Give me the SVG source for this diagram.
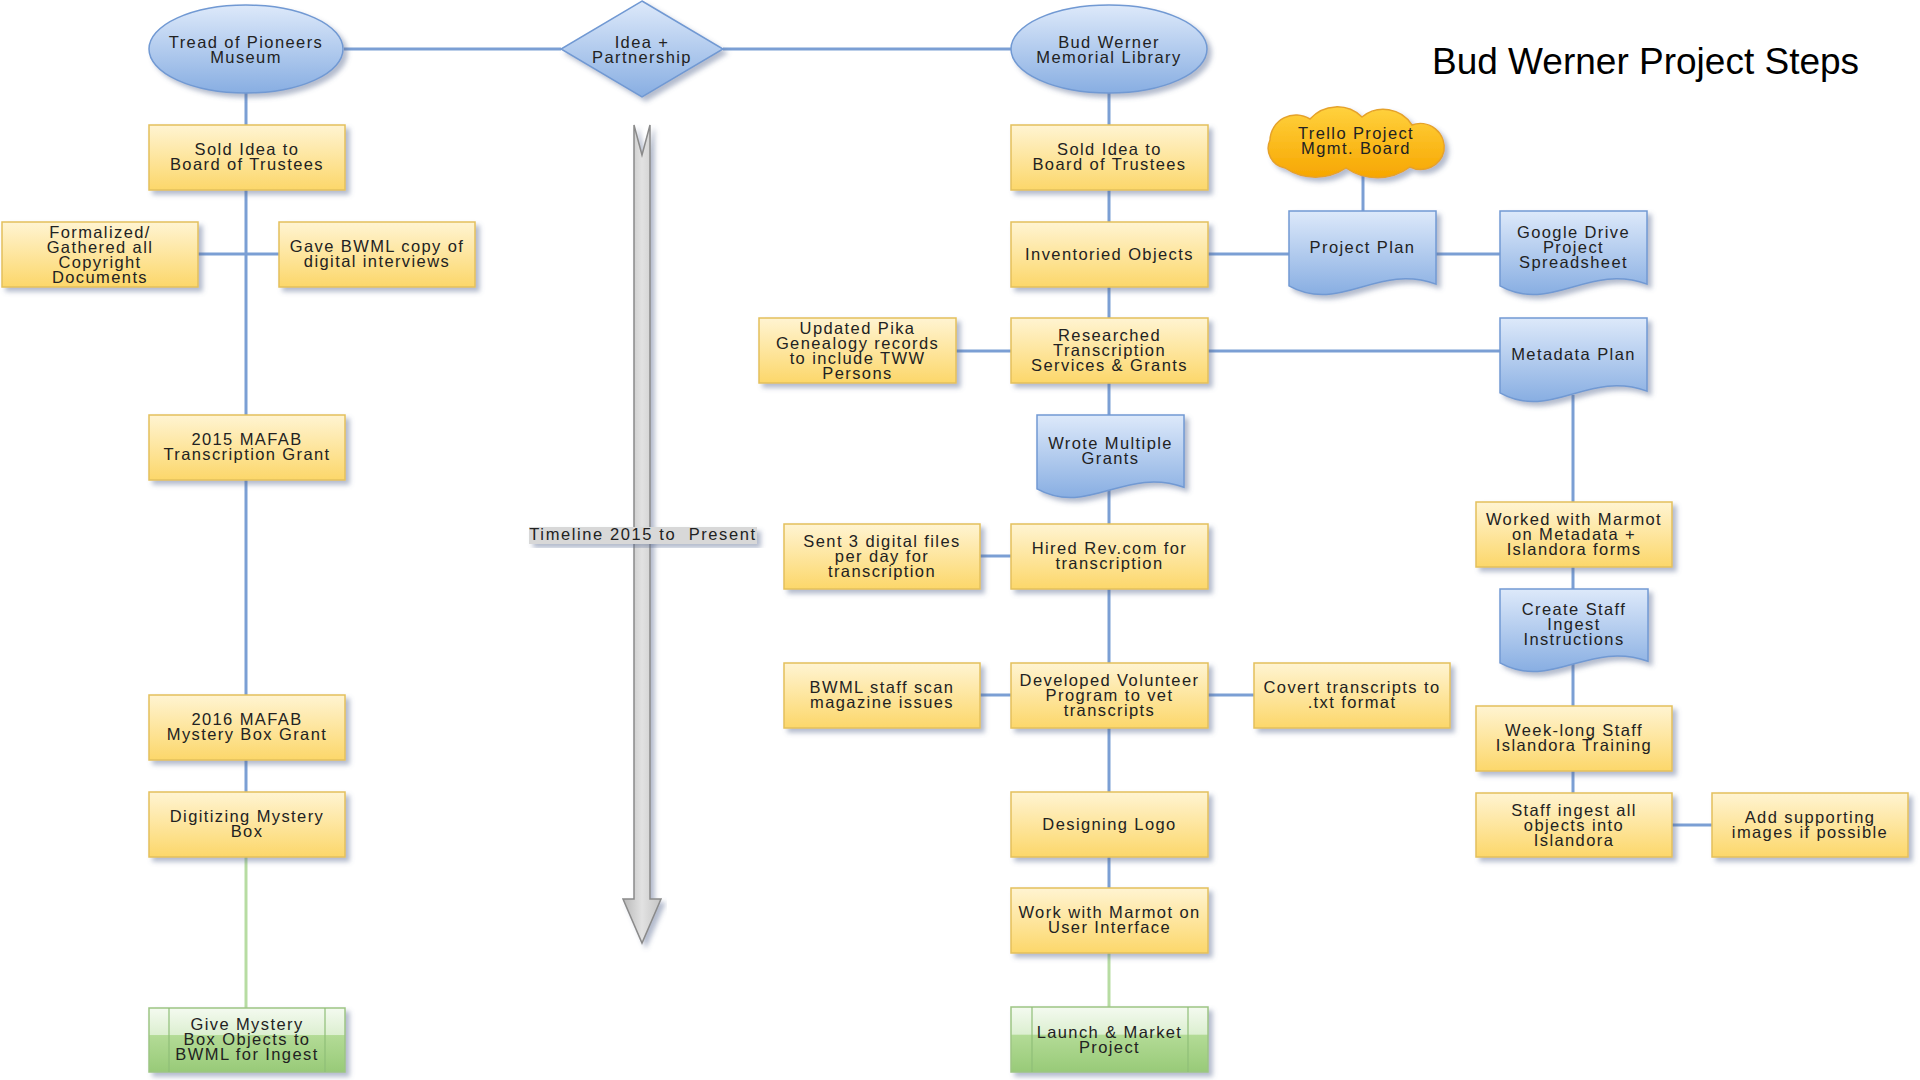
<svg xmlns="http://www.w3.org/2000/svg" width="1920" height="1080" viewBox="0 0 1920 1080">
<defs>
<linearGradient id="gY" x1="0" y1="0" x2="0" y2="1"><stop offset="0" stop-color="#fff4d2"/><stop offset="1" stop-color="#fcd76a"/></linearGradient>
<linearGradient id="gB" x1="0" y1="0" x2="0" y2="1"><stop offset="0" stop-color="#dde9fa"/><stop offset="1" stop-color="#88aee2"/></linearGradient>
<linearGradient id="gG" x1="0" y1="0" x2="0" y2="1"><stop offset="0" stop-color="#f4faf0"/><stop offset="0.42" stop-color="#dcefd0"/><stop offset="0.43" stop-color="#b3db96"/><stop offset="1" stop-color="#98ca78"/></linearGradient>
<linearGradient id="gO" x1="0" y1="0" x2="0" y2="1"><stop offset="0" stop-color="#ffd23e"/><stop offset="1" stop-color="#f7a600"/></linearGradient>
<linearGradient id="gA" x1="0" y1="0" x2="1" y2="0"><stop offset="0" stop-color="#b8b8b8"/><stop offset="0.5" stop-color="#e2e2e2"/><stop offset="1" stop-color="#c4c4c4"/></linearGradient>
<filter id="sh" x="-10%" y="-10%" width="125%" height="130%"><feDropShadow dx="4" dy="4" stdDeviation="2.5" flood-color="#56678f" flood-opacity="0.45"/></filter>
</defs>
<style>
.y{fill:url(#gY);stroke:#e3c05c;stroke-width:1.5;filter:url(#sh)}
.b{fill:url(#gB);stroke:#7199d3;stroke-width:1.5;filter:url(#sh)}
.g{fill:url(#gG);stroke:#9dc584;stroke-width:1.5;filter:url(#sh)}
.gi{stroke:#8fbf78;stroke-width:1.2}
.o{fill:url(#gO);stroke:#e5a22a;stroke-width:1.5;filter:url(#sh)}
.c{fill:none;stroke:#7b9fd4;stroke-width:3}
.cg{fill:none;stroke:#b7dca2;stroke-width:3}
text{font-family:"Liberation Sans",Arial,sans-serif;font-size:16.5px;letter-spacing:1.4px;fill:#222;text-anchor:middle}
.title{font-size:37px;letter-spacing:0;fill:#000;text-anchor:start}
</style>
<rect width="1920" height="1080" fill="#fff"/>

<g id="connectors">
<path class="c" d="M344 49H561M723 49H1011"/>
<path class="c" d="M246 93V792"/>
<path class="cg" d="M246 857V1008"/>
<path class="c" d="M198 254H279"/>
<path class="c" d="M1109 93V888"/>
<path class="cg" d="M1109 953V1007"/>
<path class="c" d="M1208 254H1289M1436 254H1500"/>
<path class="c" d="M1363 172V211"/>
<path class="c" d="M956 351H1011M1208 351H1500"/>
<path class="c" d="M1573 395V793"/>
<path class="c" d="M979 556H1011"/>
<path class="c" d="M979 695H1011M1208 695H1254"/>
<path class="c" d="M1672 825H1712"/>
</g>

<g id="timeline">
<path d="M634 125L642 155L650 125V899H661L642 943L623 899H634Z" fill="url(#gA)" stroke="#8a8a8a" stroke-width="1.5" filter="url(#sh)"/>
<rect x="529" y="527" width="228" height="17" fill="#d8d8d8" filter="url(#sh)"/>
<text x="643" y="539.5" style="letter-spacing:1.6px">Timeline 2015 to&#160; Present</text>
</g>

<text class="title" x="1432" y="74">Bud Werner Project Steps</text>

<g id="tread"><ellipse class="b" cx="246" cy="49" rx="97" ry="44"/><text x="246" y="47.5">Tread of Pioneers</text><text x="246" y="62.5">Museum</text></g>
<g id="idea"><polygon class="b" points="642,1 723,49 642,97 561,49"/><text x="642" y="47.5">Idea +</text><text x="642" y="62.5">Partnership</text></g>
<g id="bwml"><ellipse class="b" cx="1109" cy="49" rx="98" ry="44"/><text x="1109" y="47.5">Bud Werner</text><text x="1109" y="62.5">Memorial Library</text></g>

<g id="sold-l"><rect class="y" x="149" y="125" width="196" height="65"/><text x="247" y="155">Sold Idea to</text><text x="247" y="170">Board of Trustees</text></g>
<g id="formalized"><rect class="y" x="2" y="222" width="196" height="65"/><text x="100" y="237.5">Formalized/</text><text x="100" y="252.5">Gathered all</text><text x="100" y="267.5">Copyright</text><text x="100" y="282.5">Documents</text></g>
<g id="gave"><rect class="y" x="279" y="222" width="196" height="65"/><text x="377" y="252">Gave BWML copy of</text><text x="377" y="267">digital interviews</text></g>
<g id="mafab15"><rect class="y" x="149" y="415" width="196" height="65"/><text x="247" y="445">2015 MAFAB</text><text x="247" y="460">Transcription Grant</text></g>
<g id="mafab16"><rect class="y" x="149" y="695" width="196" height="65"/><text x="247" y="725">2016 MAFAB</text><text x="247" y="740">Mystery Box Grant</text></g>
<g id="digitizing"><rect class="y" x="149" y="792" width="196" height="65"/><text x="247" y="822">Digitizing Mystery</text><text x="247" y="837">Box</text></g>
<g id="give"><rect class="g" x="149" y="1008" width="196" height="64"/><path class="gi" d="M169 1008V1072M325 1008V1072"/><text x="247" y="1029.5">Give Mystery</text><text x="247" y="1044.5">Box Objects to</text><text x="247" y="1059.5">BWML for Ingest</text></g>

<g id="sold-r"><rect class="y" x="1011" y="125" width="197" height="65"/><text x="1109.5" y="155">Sold Idea to</text><text x="1109.5" y="170">Board of Trustees</text></g>
<g id="inventoried"><rect class="y" x="1011" y="222" width="197" height="65"/><text x="1109.5" y="260">Inventoried Objects</text></g>
<g id="researched"><rect class="y" x="1011" y="318" width="197" height="65"/><text x="1109.5" y="341">Researched</text><text x="1109.5" y="356">Transcription</text><text x="1109.5" y="371">Services &amp; Grants</text></g>
<g id="pika"><rect class="y" x="759" y="318" width="197" height="65"/><text x="857.5" y="333.5">Updated Pika</text><text x="857.5" y="348.5">Genealogy records</text><text x="857.5" y="363.5">to include TWW</text><text x="857.5" y="378.5">Persons</text></g>
<g id="wrote"><path class="b" d="M1037 415H1184V487.25C1125.2 466 1088.45 517 1037 488.95Z"/><text x="1110.5" y="449">Wrote Multiple</text><text x="1110.5" y="464">Grants</text></g>
<g id="hired"><rect class="y" x="1011" y="524" width="197" height="65"/><text x="1109.5" y="554">Hired Rev.com for</text><text x="1109.5" y="569">transcription</text></g>
<g id="sent"><rect class="y" x="784" y="524" width="196" height="65"/><text x="882" y="547">Sent 3 digital files</text><text x="882" y="562">per day for</text><text x="882" y="577">transcription</text></g>
<g id="developed"><rect class="y" x="1011" y="663" width="197" height="65"/><text x="1109.5" y="686">Developed Volunteer</text><text x="1109.5" y="701">Program to vet</text><text x="1109.5" y="716">transcripts</text></g>
<g id="scan"><rect class="y" x="784" y="663" width="196" height="65"/><text x="882" y="693">BWML staff scan</text><text x="882" y="708">magazine issues</text></g>
<g id="covert"><rect class="y" x="1254" y="663" width="196" height="65"/><text x="1352" y="693">Covert transcripts to</text><text x="1352" y="708">.txt format</text></g>
<g id="logo"><rect class="y" x="1011" y="792" width="197" height="65"/><text x="1109.5" y="830">Designing Logo</text></g>
<g id="marmot-ui"><rect class="y" x="1011" y="888" width="197" height="65"/><text x="1109.5" y="918">Work with Marmot on</text><text x="1109.5" y="933">User Interface</text></g>
<g id="launch"><rect class="g" x="1011" y="1007" width="197" height="65"/><path class="gi" d="M1032 1007V1072M1188 1007V1072"/><text x="1109.5" y="1037.5">Launch &amp; Market</text><text x="1109.5" y="1052.5">Project</text></g>

<g id="trello"><path class="o" d="M1285 168A20 20 0 0 1 1270 140A26 26 0 0 1 1310 119A36 36 0 0 1 1362 117A34 34 0 0 1 1412 125A24 24 0 0 1 1444 151A24 24 0 0 1 1410 167A55 55 0 0 1 1346 168A55 55 0 0 1 1285 168Z"/><text x="1356" y="138.5">Trello Project</text><text x="1356" y="153.5">Mgmt. Board</text></g>
<g id="project-plan"><path class="b" d="M1289 211H1436V284.1C1377.2 262.6 1340.45 314.2 1289 285.8Z"/><text x="1362.5" y="253">Project Plan</text></g>
<g id="gdrive"><path class="b" d="M1500 211H1647V284.1C1588.2 262.6 1551.45 314.2 1500 285.8Z"/><text x="1573.5" y="237.5">Google Drive</text><text x="1573.5" y="252.5">Project</text><text x="1573.5" y="267.5">Spreadsheet</text></g>
<g id="metadata"><path class="b" d="M1500 318H1647V391.1C1588.2 369.6 1551.45 421.2 1500 392.8Z"/><text x="1573.5" y="360">Metadata Plan</text></g>
<g id="worked"><rect class="y" x="1476" y="502" width="196" height="65"/><text x="1574" y="525">Worked with Marmot</text><text x="1574" y="540">on Metadata +</text><text x="1574" y="555">Islandora forms</text></g>
<g id="create-staff"><path class="b" d="M1500 589H1648V661.25C1588.8 640 1551.8 691 1500 662.95Z"/><text x="1574" y="614.5">Create Staff</text><text x="1574" y="629.5">Ingest</text><text x="1574" y="644.5">Instructions</text></g>
<g id="weeklong"><rect class="y" x="1476" y="706" width="196" height="65"/><text x="1574" y="736">Week-long Staff</text><text x="1574" y="751">Islandora Training</text></g>
<g id="staff-ingest"><rect class="y" x="1476" y="793" width="196" height="64"/><text x="1574" y="815.5">Staff ingest all</text><text x="1574" y="830.5">objects into</text><text x="1574" y="845.5">Islandora</text></g>
<g id="add-supporting"><rect class="y" x="1712" y="793" width="196" height="64"/><text x="1810" y="823">Add supporting</text><text x="1810" y="838">images if possible</text></g>
</svg>
